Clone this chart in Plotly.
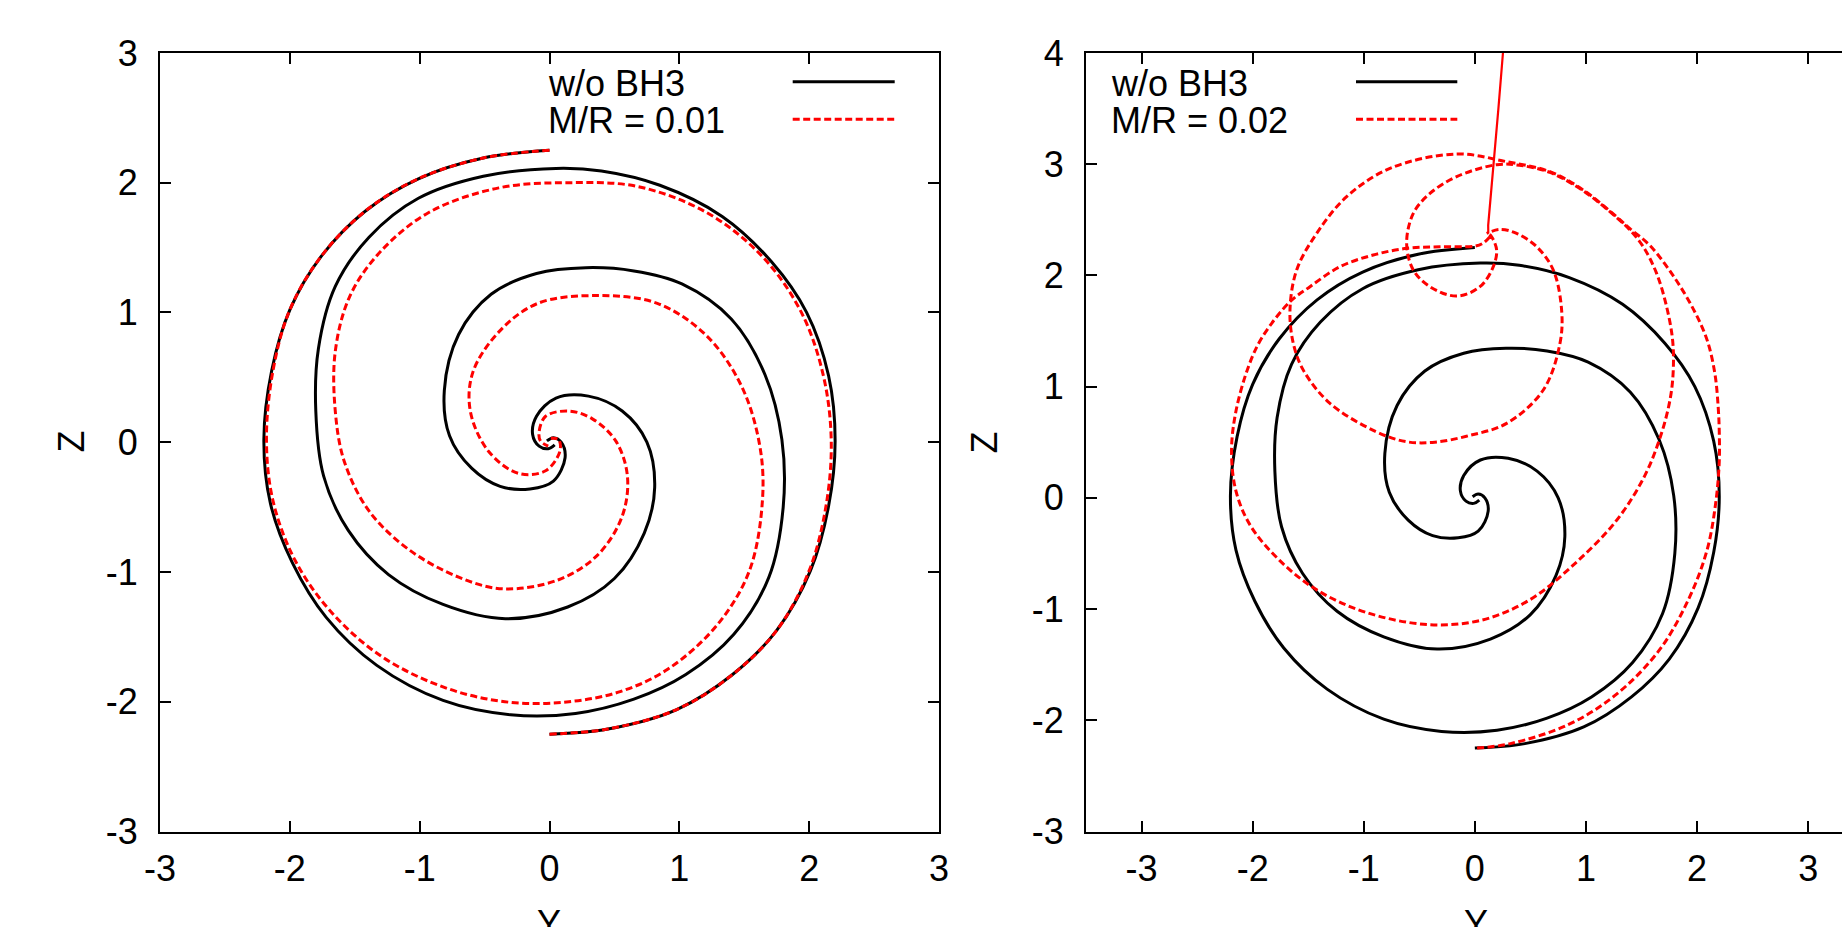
import plotly.graph_objects as go

# ---------------- data ----------------
# w/o BH3 : orbit of BH1 (starts at top) and BH2 (starts at bottom)
blk1_y = [0.00, -0.51, -1.01, -1.42, -1.76, -2.00, -2.14, -2.20, -2.15, -1.98, -1.72, -1.33, -0.82, -0.30,
          0.20, 0.65, 1.05, 1.42, 1.69, 1.80, 1.79, 1.66, 1.40, 1.02, 0.65, 0.28, -0.10, -0.45, -0.70,
          -0.81, -0.77, -0.60, -0.38, -0.15, 0.03, 0.12, 0.09, 0.03, -0.02]
blk1_z = [2.25, 2.19, 2.03, 1.78, 1.43, 1.02, 0.55, 0.02, -0.47, -0.93, -1.35, -1.72, -1.99, -2.10,
          -2.09, -1.98, -1.79, -1.48, -1.04, -0.50, 0.02, 0.52, 0.95, 1.22, 1.32, 1.345, 1.30, 1.14, 0.83,
          0.40, 0.05, -0.20, -0.34, -0.36, -0.30, -0.12, 0.00, 0.035, 0.01]
blk2_y = [0.00, 0.45, 0.98, 1.41, 1.75, 2.01, 2.15, 2.20, 2.15, 1.98, 1.71, 1.33, 0.85, 0.40, 0.05,
          -0.51, -1.01, -1.39, -1.65, -1.78, -1.80, -1.74, -1.55, -1.24, -0.82, -0.34, 0.14, 0.50, 0.73,
          0.81, 0.75, 0.56, 0.30, 0.05, -0.10, -0.13, -0.08, -0.01, 0.04]
blk2_z = [-2.25, -2.21, -2.06, -1.79, -1.45, -0.99, -0.49, 0.01, 0.51, 1.00, 1.39, 1.74, 1.98, 2.09, 2.11,
          2.05, 1.88, 1.58, 1.20, 0.72, 0.24, -0.26, -0.68, -1.02, -1.25, -1.36, -1.27, -1.05, -0.70,
          -0.35, 0.00, 0.24, 0.355, 0.34, 0.20, 0.06, -0.03, -0.05, -0.02]

# M/R = 0.01
r01_bh1_y = [0.00, -0.51, -1.01, -1.42, -1.76, -2.00, -2.13, -2.18, -2.13, -1.96, -1.68, -1.28, -0.78, -0.30,
             0.15, 0.55, 0.91, 1.29, 1.54, 1.64, 1.62, 1.48, 1.21, 0.83, 0.37, -0.09, -0.39, -0.59, -0.61,
             -0.47, -0.24, -0.03, 0.08, 0.07, 0.01]
r01_bh1_z = [2.25, 2.19, 2.03, 1.78, 1.43, 1.02, 0.55, 0.02, -0.45, -0.91, -1.31, -1.66, -1.90, -2.005,
             -2.00, -1.92, -1.75, -1.41, -0.99, -0.45, -0.03, 0.43, 0.82, 1.07, 1.13, 1.07, 0.85, 0.54, 0.24,
             -0.07, -0.24, -0.22, -0.07, 0.02, 0.03]
r01_bh2_y = [0.00, 0.45, 0.98, 1.41, 1.75, 2.00, 2.13, 2.17, 2.11, 1.94, 1.64, 1.21, 0.68, 0.15, -0.39,
             -0.93, -1.31, -1.54, -1.65, -1.65, -1.58, -1.39, -1.08, -0.70, -0.36, 0.07, 0.37, 0.56, 0.60,
             0.51, 0.33, 0.15, -0.03, -0.08, -0.07, -0.01]
r01_bh2_z = [-2.25, -2.21, -2.06, -1.79, -1.45, -0.99, -0.49, 0.01, 0.51, 1.00, 1.43, 1.77, 1.97, 2.00, 1.96,
             1.77, 1.46, 1.12, 0.70, 0.24, -0.15, -0.53, -0.83, -1.04, -1.13, -1.06, -0.87, -0.57, -0.26,
             0.01, 0.18, 0.24, 0.20, 0.08, 0.01, -0.03]

# M/R = 0.02
r02_bh1_y = [0.136, 0.075, 0.00, -0.314, -0.614, -0.914, -1.214, -1.484, -1.664, -1.91, -2.03, -2.15, -2.19,
             -2.15, -2.02, -1.76, -1.42, -0.98, -0.42, 0.06, 0.49, 0.88, 1.27, 1.53, 1.68, 1.76, 1.786,
             1.78, 1.726, 1.636, 1.516, 1.396, 1.276, 0.976, 0.676, 0.40, 0.196, -0.164, -0.404, -0.554,
             -0.614, -0.554, -0.404, -0.164, 0.046, 0.166, 0.196, 0.151, 0.121]
r02_bh1_z = [2.347, 2.29, 2.263, 2.257, 2.243, 2.183, 2.078, 1.898, 1.763, 1.45, 1.20, 0.78, 0.42,
             0.06, -0.25, -0.56, -0.83, -1.03, -1.14, -1.10, -0.92, -0.61, -0.21, 0.20, 0.58, 0.90, 1.15,
             1.418, 1.718, 2.018, 2.257, 2.407, 2.52, 2.76, 2.925, 2.99, 2.995, 2.887, 2.737, 2.557,
             2.288, 2.048, 1.898, 1.814, 1.898, 2.078, 2.228, 2.347, 2.377]
r02_bh2_y = [0.02, 0.32, 0.84, 1.27, 1.66, 1.92, 2.09, 2.17, 2.20, 2.20, 2.19, 2.16, 2.09, 1.97, 1.79,
             1.576, 1.396, 1.276, 0.976, 0.676, 0.286, -0.164, -0.764, -1.154, -1.424, -1.604, -1.664,
             -1.634, -1.544, -1.304, -0.90, -0.62, -0.36, -0.05, 0.286, 0.616, 0.766, 0.781, 0.706, 0.556,
             0.376, 0.226, 0.106]
r02_bh2_z = [-2.25, -2.21, -2.04, -1.77, -1.37, -0.92, -0.47, -0.03, 0.33, 0.59, 0.82, 1.12, 1.42, 1.69,
             1.99, 2.268, 2.42, 2.527, 2.767, 2.932, 3.022, 3.091, 2.962, 2.707, 2.377, 2.048, 1.688,
             1.388, 1.148, 0.849, 0.60, 0.505, 0.50, 0.56, 0.669, 0.969, 1.388, 1.688, 2.048, 2.258,
             2.377, 2.413, 2.377]
# merged remnant leaving upward
r02_mrg_y = [0.121, 0.12, 0.211, 0.253]
r02_mrg_z = [2.377, 2.45, 3.487, 4.00]

x_ticks = [-3, -2, -1, 0, 1, 2, 3]
y_ticks_left = [-3, -2, -1, 0, 1, 2, 3]
y_ticks_right = [-3, -2, -1, 0, 1, 2, 3, 4]

legend_left = ["w/o BH3", "M/R = 0.01"]
legend_right = ["w/o BH3", "M/R = 0.02"]

# ---------------- figure ----------------
W, H = 1842, 927
FONT = "Liberation Sans, Arial, Helvetica, sans-serif"
RED = "#ff0000"
DASH = "7px,3.5px"
LW = 3.0

fig = go.Figure()


def add_curve(x, y, xa, ya, color, dash, width=LW):
    fig.add_trace(go.Scatter(x=x, y=y, xaxis=xa, yaxis=ya, mode="lines",
                             line=dict(color=color, width=width, dash=dash, shape="spline", smoothing=1.0),
                             showlegend=False, hoverinfo="skip"))


# left panel
add_curve(blk1_y, blk1_z, "x", "y", "black", "solid")
add_curve(blk2_y, blk2_z, "x", "y", "black", "solid")
add_curve(r01_bh1_y, r01_bh1_z, "x", "y", RED, DASH)
add_curve(r01_bh2_y, r01_bh2_z, "x", "y", RED, DASH)
# right panel
add_curve(blk1_y, blk1_z, "x2", "y2", "black", "solid")
add_curve(blk2_y, blk2_z, "x2", "y2", "black", "solid")
add_curve(r02_bh1_y, r02_bh1_z, "x2", "y2", RED, DASH)
add_curve(r02_bh2_y, r02_bh2_z, "x2", "y2", RED, DASH)
fig.add_trace(go.Scatter(x=r02_mrg_y, y=r02_mrg_z, xaxis="x2", yaxis="y2", mode="lines",
                         line=dict(color=RED, width=2.2), showlegend=False, hoverinfo="skip"))


def px(xp):
    return xp / W


def py(yp):
    return 1 - yp / H


top_px, bot_px = 52.9, 831.5
L1, R1 = 160.0, 939.0
L2 = 1086.0
unit2 = 111.1
x2_right = -3.5 + (W - L2) / unit2

tickfont = dict(family=FONT, size=36, color="black")
common = dict(showgrid=False, zeroline=False, showline=True, linecolor="black", linewidth=2,
              ticks="inside", ticklen=11, tickwidth=1.5, tickcolor="black", tickfont=tickfont,
              automargin=False)


def labels(vals):
    return [str(v) for v in vals]


fig.update_layout(
    width=W, height=H, margin=dict(l=0, r=0, t=0, b=0, pad=0, autoexpand=False),
    paper_bgcolor="white", plot_bgcolor="white", showlegend=False,
    xaxis=dict(domain=[px(L1), px(R1)], range=[-3, 3], tickvals=x_ticks, ticktext=labels(x_ticks),
               anchor="y", mirror="ticks", ticklabelstandoff=4, **common),
    yaxis=dict(domain=[py(bot_px), py(top_px)], range=[-3, 3], tickvals=y_ticks_left,
               ticktext=labels(y_ticks_left), anchor="x", mirror="ticks", ticklabelstandoff=13, **common),
    xaxis2=dict(domain=[px(L2), 1.0], range=[-3.5, x2_right], tickvals=x_ticks, ticktext=labels(x_ticks),
                anchor="y2", mirror="ticks", ticklabelstandoff=4, **common),
    yaxis2=dict(domain=[py(bot_px), py(top_px)], range=[-3, 4], tickvals=y_ticks_right,
                ticktext=labels(y_ticks_right), anchor="x2", mirror=False, ticklabelstandoff=13, **common),
)

labfont = dict(family=FONT, size=36, color="black")
ann = []
for xc in (70.5, 984.4):
    ann.append(dict(text="Z", x=px(xc), y=py(442), xref="paper", yref="paper", showarrow=False,
                    textangle=-90, font=labfont, xanchor="center", yanchor="middle"))
for xc in (549.4, 1476.0):
    ann.append(dict(text="Y", x=px(xc), y=py(923), xref="paper", yref="paper", showarrow=False,
                    font=labfont, xanchor="center", yanchor="middle"))

shapes = []
for labs, tx, lx0, lx1 in ((legend_left, 545.5, 792.7, 894.7), (legend_right, 1109.0, 1356.0, 1457.3)):
    ann.append(dict(text=labs[0], x=px(tx), y=py(83), xref="paper", yref="paper", showarrow=False,
                    font=labfont, xanchor="left", yanchor="middle", height=34, valign="middle"))
    ann.append(dict(text=labs[1], x=px(tx), y=py(119.5), xref="paper", yref="paper", showarrow=False,
                    font=labfont, xanchor="left", yanchor="middle", height=34, valign="middle"))
    shapes.append(dict(type="line", xref="paper", yref="paper", x0=px(lx0), x1=px(lx1),
                       y0=py(81.8), y1=py(81.8), line=dict(color="black", width=LW)))
    shapes.append(dict(type="line", xref="paper", yref="paper", x0=px(lx0), x1=px(lx1),
                       y0=py(119.2), y1=py(119.2), line=dict(color=RED, width=LW, dash=DASH)))

fig.update_layout(annotations=ann, shapes=shapes)
fig.write_html("out.html", config={"displayModeBar": False},
               post_script="document.body.style.margin='0px';document.body.style.overflow='hidden';")
